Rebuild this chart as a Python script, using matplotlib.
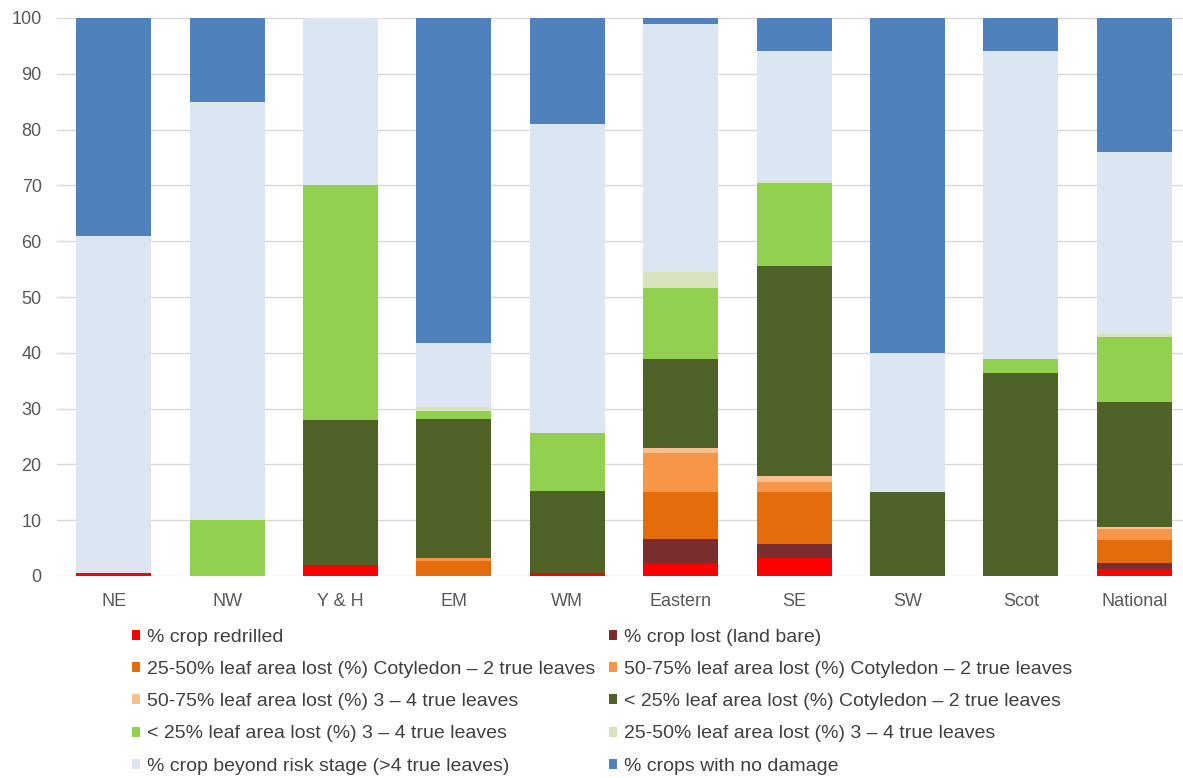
import matplotlib
matplotlib.use("Agg")
import matplotlib.pyplot as plt
import numpy as np

plt.rcParams['font.family'] = ['Liberation Sans', 'DejaVu Sans']

regions = ["NE", "NW", "Y & H", "EM", "WM", "Eastern", "SE", "SW", "Scot", "National"]

redrilled      = [0.5, 0.0, 2.0, 0.0, 0.5, 2.4, 3.2, 0.0, 0.0, 1.2]
lost_bare      = [0.0, 0.0, 0.0, 0.0, 0.0, 4.3, 2.5, 0.0, 0.0, 1.2]
mid_cot        = [0.0, 0.0, 0.0, 2.7, 0.0, 8.4, 9.4, 0.0, 0.0, 4.0]
high_cot       = [0.0, 0.0, 0.0, 0.6, 0.0, 7.0, 1.7, 0.0, 0.0, 2.0]
high_true      = [0.0, 0.0, 0.0, 0.0, 0.0, 0.8, 1.2, 0.0, 0.0, 0.4]
low_cot        = [0.0, 0.0, 26.0, 24.8, 14.8, 16.0, 37.6, 15.0, 36.3, 22.3]
low_true       = [0.0, 10.0, 42.0, 1.5, 10.4, 12.8, 14.9, 0.0, 2.6, 11.7]
mid_true       = [0.0, 0.0, 0.0, 0.6, 0.0, 2.7, 0.3, 0.0, 0.0, 0.5]
beyond_risk    = [60.5, 75.0, 30.0, 11.6, 55.3, 44.5, 23.2, 25.0, 55.1, 32.7]
no_damage      = [39.0, 15.0, 0.0, 58.2, 19.0, 1.1, 6.0, 60.0, 6.0, 24.0]

series_labels = [
    "% crop redrilled",
    "% crop lost (land bare)",
    "25-50% leaf area lost (%) Cotyledon \u2013 2 true leaves",
    "50-75% leaf area lost (%) Cotyledon \u2013 2 true leaves",
    "50-75% leaf area lost (%) 3 \u2013 4 true leaves",
    "< 25% leaf area lost (%) Cotyledon \u2013 2 true leaves",
    "< 25% leaf area lost (%) 3 \u2013 4 true leaves",
    "25-50% leaf area lost (%) 3 \u2013 4 true leaves",
    "% crop beyond risk stage (>4 true leaves)",
    "% crops with no damage",
]
series_values = [redrilled, lost_bare, mid_cot, high_cot, high_true,
                 low_cot, low_true, mid_true, beyond_risk, no_damage]
colors = ["#FF0000", "#7B2C2C", "#E46C0A", "#F79646", "#FAC090",
          "#4F6228", "#92D050", "#D7E4BD", "#DCE6F2", "#4F81BD"]

W, H = 1183, 778
fig = plt.figure(figsize=(W / 100, H / 100), dpi=100)
ax = fig.add_axes([57 / W, (H - 576) / H, (1191 - 57) / W, (576 - 18) / H])

x = np.arange(len(regions))
bottom = np.zeros(len(regions))
handles = []
for vals, col, lab in zip(series_values, colors, series_labels):
    v = np.array(vals)
    b = ax.bar(x, v, bottom=bottom, width=0.66, color=col, label=lab, linewidth=0)
    handles.append(b)
    bottom += v

ax.set_xlim(-0.5, 9.5)
ax.set_ylim(0, 100)
ax.set_yticks(np.arange(0, 101, 10))
ax.set_xticks(x)
ax.set_xticklabels(regions)
ax.tick_params(axis='both', length=0, labelsize=13, colors="#595959")
ax.tick_params(axis='x', pad=12)
ax.tick_params(axis='y', pad=11)
ax.yaxis.grid(True, color="#D9D9D9", linewidth=1)
ax.set_axisbelow(True)
for s in ax.spines.values():
    s.set_visible(False)

common = dict(frameon=False, fontsize=14, handlelength=0.42, handleheight=0.42,
              handletextpad=0.36, labelspacing=0.78, borderaxespad=0, borderpad=0,
              labelcolor="#404040")
leg1 = fig.legend(handles[0::2], series_labels[0::2], loc="upper left",
                  bbox_to_anchor=(132 / W, 1 - 629 / H), **common)
leg2 = fig.legend(handles[1::2], series_labels[1::2], loc="upper left",
                  bbox_to_anchor=(609 / W, 1 - 629 / H), **common)

fig.savefig("out.png", dpi=100)
